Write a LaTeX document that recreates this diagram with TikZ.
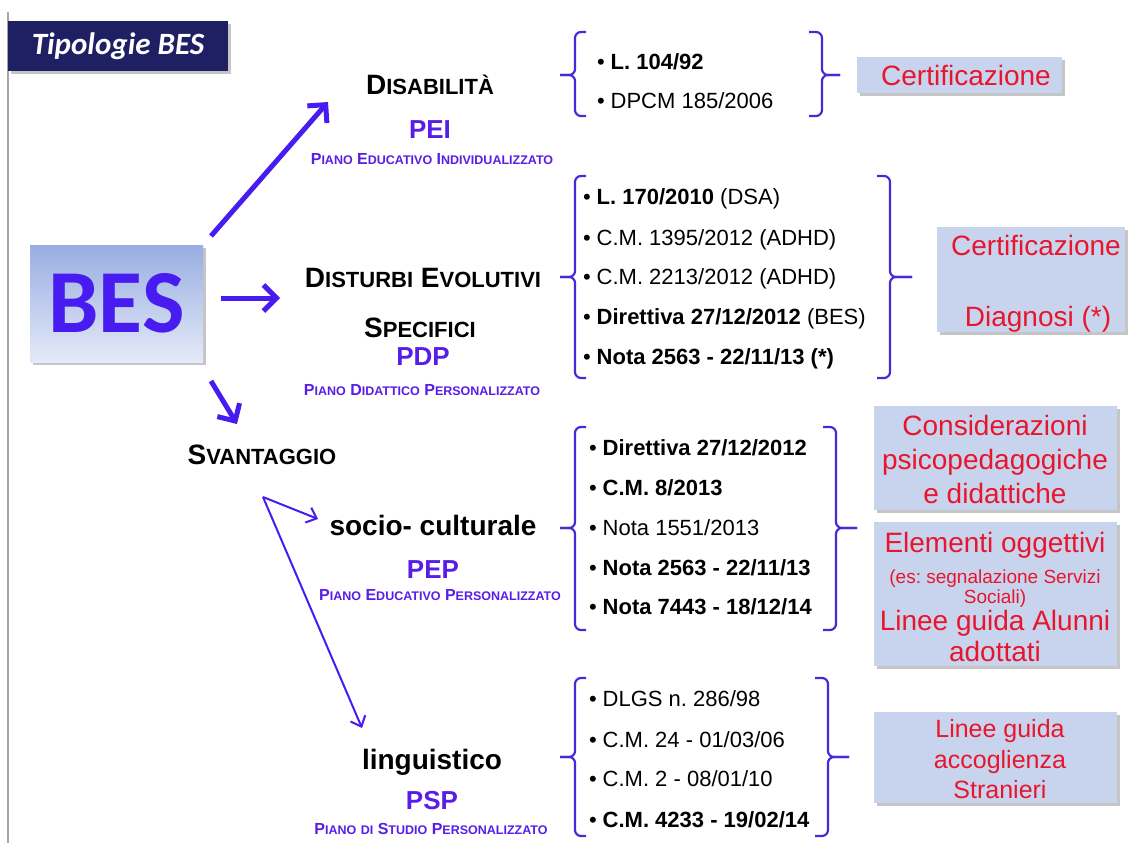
\documentclass[tikz,border=0pt]{standalone}
\usepackage{fontspec}
\setmainfont{Liberation Sans}
\newfontfamily\calibri{Carlito}
\usetikzlibrary{arrows.meta,shadows,shadings}
\definecolor{navy}{RGB}{31,32,100}
\definecolor{arrowblue}{RGB}{72,28,240}
\definecolor{headblue}{RGB}{88,30,232}
\definecolor{brkblue}{RGB}{75,40,215}
\definecolor{boxfill}{RGB}{200,212,238}
\definecolor{redtxt}{RGB}{232,22,44}
\definecolor{bestop}{RGB}{152,173,226}
\definecolor{besbot}{RGB}{228,234,247}
\frenchspacing
\newcommand{\scsz}{22}
\newcommand{\scw}[2]{#1{\fontsize{\scsz}{\scsz}\selectfont #2}}
\newcommand{\bul}{\makebox[13.5pt][l]{•}}
\newcommand{\leftbrk}[5]{%
  \draw[brk,rounded corners=6pt] (#1+11,#2) -- (#1,#2) -- (#1,#3) -- (#5,#3);
  \draw[brk,rounded corners=6pt] (#5,#3) -- (#1,#3) -- (#1,#4) -- (#1+11,#4);}
\newcommand{\rightbrk}[5]{%
  \draw[brk,rounded corners=6pt] (#1-13,#2) -- (#1,#2) -- (#1,#3) -- (#5,#3);
  \draw[brk,rounded corners=6pt] (#5,#3) -- (#1,#3) -- (#1,#4) -- (#1-13,#4);}
\tikzset{
  head/.style={anchor=base, inner sep=0pt, font=\bfseries\fontsize{28}{28}\selectfont\renewcommand{\scsz}{22}},
  plan/.style={anchor=base, inner sep=0pt, text=headblue, font=\bfseries\fontsize{26}{26}\selectfont},
  sub/.style={anchor=base, inner sep=0pt, text=headblue, font=\bfseries\fontsize{16}{16}\selectfont\renewcommand{\scsz}{12.5}},
  item/.style={anchor=base west, inner sep=0pt, font=\fontsize{22}{22}\selectfont\frenchspacing},
  box/.style={fill=boxfill, draw=none, inner sep=0pt, drop shadow={shadow xshift=3pt, shadow yshift=-3pt, opacity=0.45}},
  rtxt/.style={anchor=base, inner sep=0pt, text=redtxt, font=\fontsize{28}{28}\selectfont},
  stxt/.style={anchor=base, inner sep=0pt, text=redtxt, font=\fontsize{19}{19}\selectfont},
  mtxt/.style={anchor=base, inner sep=0pt, text=redtxt, font=\fontsize{25}{25}\selectfont},
  bigarrow/.style={draw=arrowblue, line width=5pt, -{Straight Barb[length=13pt,width=26pt]}},
  thinarrow/.style={draw=arrowblue, line width=2pt, -{Straight Barb[length=9pt,width=16pt]}},
  brk/.style={draw=brkblue, line width=2.2pt},
}
\begin{document}
\begin{tikzpicture}[x=1pt,y=-1pt]
\useasboundingbox[fill=white] (0,0) rectangle (1128,843);
\draw[gray!70, line width=1.2pt] (8,12) -- (8,843);
% title
\node[fill=navy, minimum width=220pt, minimum height=50pt, inner sep=0pt,
  drop shadow={shadow xshift=3pt, shadow yshift=-3pt, opacity=0.45},
  text=white, font=\calibri\bfseries\itshape\fontsize{31}{31}\selectfont] (title) at (118,46) {Tipologie BES};
% BES box
\node[minimum width=173pt, minimum height=117pt, inner sep=0pt, top color=bestop, bottom color=besbot,
  drop shadow={shadow xshift=3pt, shadow yshift=-3pt, opacity=0.45},
  text=arrowblue, font=\calibri\bfseries\fontsize{90}{90}\selectfont] (bes) at (116.5,303.5) {\raisebox{-3pt}{BES}};
% arrows from BES
\coordinate (a1s) at (211,236); \coordinate (a1e) at (328,102);
\coordinate (a2s) at (221,298); \coordinate (a2e) at (280,298);
\coordinate (a3s) at (211,381); \coordinate (a3e) at (237,424);
\draw[bigarrow] (a1s) -- (a1e);
\draw[bigarrow] (a2s) -- (a2e);
\draw[bigarrow] (a3s) -- (a3e);
% headings
\node[head] (dis) at (430,95) {\scw{D}{ISABILITÀ}};
\node[plan] (pei) at (430,139) {PEI};
\node[sub] (peis) at (432,164) {\scw{P}{IANO} \scw{E}{DUCATIVO} \scw{I}{NDIVIDUALIZZATO}};
\node[head] (dse) at (423,287) {\scw{D}{ISTURBI} \scw{E}{VOLUTIVI}};
\node[head] (dse2) at (420,337) {\scw{S}{PECIFICI}};
\node[plan] (pdp) at (423,365) {PDP};
\node[sub] (pdps) at (422,395) {\scw{P}{IANO} \scw{D}{IDATTICO} \scw{P}{ERSONALIZZATO}};
\node[head] (sva) at (262,464) {\scw{S}{VANTAGGIO}};
\node[head] (soc) at (433,535) {socio- culturale};
\node[plan] (pep) at (433,578) {PEP};
\node[sub] (peps) at (440,600) {\scw{P}{IANO} \scw{E}{DUCATIVO} \scw{P}{ERSONALIZZATO}};
\node[head] (lin) at (432,769) {linguistico};
\node[plan] (psp) at (432,809) {PSP};
\node[sub] (psps) at (431,834) {\scw{P}{IANO} {\fontsize{12.5}{12.5}\selectfont DI} \scw{S}{TUDIO} \scw{P}{ERSONALIZZATO}};
% svantaggio arrows
\coordinate (sv) at (263,497); \coordinate (s1e) at (318,519); \coordinate (s2e) at (362,728);
\draw[thinarrow] (sv) -- (s1e);
\draw[thinarrow] (sv) -- (s2e);
% group 1
\leftbrk{575}{32}{75}{116}{560}
\rightbrk{822}{32}{75}{116}{840}
\node[item] (g1a) at (597,70) {\bul\textbf{L. 104/92}};
\node[item] (g1b) at (597,109) {\bul DPCM 185/2006};
\node[box, minimum width=205pt, minimum height=36pt] (c1) at (959.5,75) {};
\node[rtxt] (c1t) at (966,85) {Certificazione};
% group 2
\leftbrk{575}{176}{277}{378}{560}
\rightbrk{890}{176}{277}{378}{912}
\node[item] (g2a) at (583,204) {\bul\textbf{L. 170/2010} (DSA)};
\node[item] (g2b) at (583,245) {\bul C.M. 1395/2012 (ADHD)};
\node[item] (g2c) at (583,284) {\bul C.M. 2213/2012 (ADHD)};
\node[item] (g2d) at (583,324) {\bul\textbf{Direttiva 27/12/2012} (BES)};
\node[item] (g2e) at (583,364) {\bul\textbf{Nota 2563 - 22/11/13 (*)}};
\node[box, minimum width=188pt, minimum height=105pt] (c2) at (1031,279.5) {};
\node[rtxt] (c2t) at (1036,255) {Certificazione};
\node[rtxt] (c2u) at (1038,326) {Diagnosi (*)};
% group 3
\leftbrk{575}{427}{528}{630}{560}
\rightbrk{836}{427}{528}{630}{857}
\node[item] (g3a) at (589,455) {\bul\textbf{Direttiva 27/12/2012}};
\node[item] (g3b) at (589,495) {\bul\textbf{C.M. 8/2013}};
\node[item] (g3c) at (589,535) {\bul Nota 1551/2013};
\node[item] (g3d) at (589,575) {\bul\textbf{Nota 2563 - 22/11/13}};
\node[item] (g3e) at (589,614) {\bul\textbf{Nota 7443 - 18/12/14}};
\node[box, minimum width=243pt, minimum height=104pt] (ca) at (995.5,458) {};
\node[rtxt] (cat1) at (995,435) {Considerazioni};
\node[rtxt] (cat2) at (995,469) {psicopedagogiche};
\node[rtxt] (cat3) at (995,503) {e didattiche};
\node[box, minimum width=243pt, minimum height=144pt] (cb) at (995.5,594) {};
\node[rtxt] (cbt1) at (995,552) {Elementi oggettivi};
\node[stxt] (cbt2) at (995,583) {(es: segnalazione Servizi};
\node[stxt] (cbt3) at (995,603) {Sociali)};
\node[rtxt] (cbt4) at (995,630) {Linee guida Alunni};
\node[rtxt] (cbt5) at (995,661) {adottati};
% group 4
\leftbrk{575}{678}{757}{836}{560}
\rightbrk{828}{678}{757}{836}{849}
\node[item] (g4a) at (589,706) {\bul DLGS n. 286/98};
\node[item] (g4b) at (589,747) {\bul C.M. 24 - 01/03/06};
\node[item] (g4c) at (589,786) {\bul C.M. 2 - 08/01/10};
\node[item] (g4d) at (589,827) {\bul\textbf{C.M. 4233 - 19/02/14}};
\node[box, minimum width=243pt, minimum height=91pt] (cc) at (995.5,757.5) {};
\node[mtxt] (cct1) at (1000,737) {Linee guida};
\node[mtxt] (cct2) at (1000,768) {accoglienza};
\node[mtxt] (cct3) at (1000,798) {Stranieri};
\end{tikzpicture}
\end{document}
